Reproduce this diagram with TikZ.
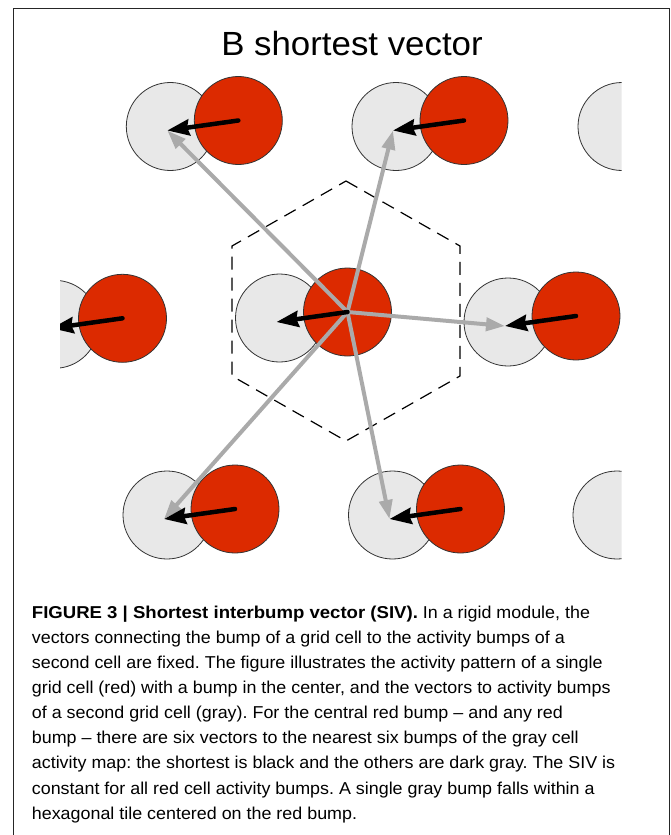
\documentclass[tikz,border=0pt]{standalone}
\usepackage{fontspec}
\setmainfont{Liberation Sans}[FakeStretch=1.04,BoldFeatures={FakeStretch=1.08}]
\usepackage{tikz}
\usetikzlibrary{arrows.meta}
\definecolor{colRED}{RGB}{220,42,0}
\definecolor{colGRAY}{RGB}{232,232,232}
\definecolor{colVEC}{RGB}{170,170,170}
\tikzset{
  redbump/.style={circle,draw=black!80,line width=0.8pt,fill=colRED,minimum size=88pt,inner sep=0pt},
  graybump/.style={redbump,fill=colGRAY},
  shortvec/.style={line width=4.5pt,line cap=round,-{Stealth[length=22pt,width=16pt,inset=2pt]}},
  othervec/.style={colVEC,line width=4pt,-{Triangle[length=19pt,width=13pt]}},
  tile/.style={dash pattern=on 13pt off 8pt,line width=1.2pt},
  frameline/.style={line width=1pt,black!85}
}
\frenchspacing

\begin{document}
\begin{tikzpicture}[x=1pt,y=-1pt]
  \useasboundingbox (0,0) rectangle (671,835);
  % frame, open at the bottom
  \draw[frameline] (13,835) |- (669.3,8) -- (669.3,835);
  \node[font=\fontsize{33.5}{40}\selectfont,anchor=base,inner sep=0pt] (title) at (352,55) {B shortest vector};
  % bumps of the red cell, each with the gray bump of the second cell
  \begin{scope}
    \clip (60,0) rectangle (621.7,600);
    \foreach \n/\x/\y in {tl/238.3/120.5, tm/464/120.5, ml/122.5/318.3, c/347.5/312, mr/576/316, bl/235/509, bm/460.5/509}{
      \node[graybump] (g\n) at (\x-68,\y+6) {};
      \coordinate (t\n) at (\x-71,\y+10);
      \node[redbump] (r\n) at (\x,\y) {};
    }
    \node[graybump] (gtr) at (622,126.5) {};
    \node[graybump] (gbr) at (617,515) {};
    % hexagonal tile round the central red bump
    \draw[tile] (346,181) -- (460,246) -- (460,376) -- (346,441) -- (232,376) -- (232,246) -- cycle;
    % the six vectors from the central bump
    \foreach \n in {tl,tm,mr,bl,bm}
      \draw[othervec] (rc.center) -- (t\n);
    \foreach \n in {tl,tm,ml,c,mr,bl,bm}
      \draw[shortvec] (r\n.center) -- (t\n);
  \end{scope}
  % caption
  \foreach \l [count=\i] in {
      {\textbf{FIGURE 3 | Shortest interbump vector (SIV).} In a rigid module, the},
      {vectors connecting the bump of a grid cell to the activity bumps of a},
      {second cell are fixed. The figure illustrates the activity pattern of a single},
      {grid cell (red) with a bump in the center, and the vectors to activity bumps},
      {of a second grid cell (gray). For the central red bump -- and any red},
      {bump -- there are six vectors to the nearest six bumps of the gray cell},
      {activity map: the shortest is black and the others are dark gray. The SIV is},
      {constant for all red cell activity bumps. A single gray bump falls within a},
      {hexagonal tile centered on the red bump.}}
    \node[font=\fontsize{17.2}{20}\selectfont,anchor=base west,inner sep=0pt] (cap\i) at (31.7,{618.3+25.1*(\i-1)}) {\l};
\end{tikzpicture}
\end{document}
